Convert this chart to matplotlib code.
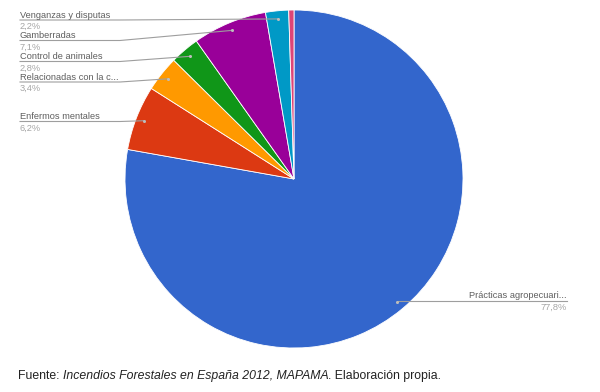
import matplotlib
matplotlib.use("Agg")
import matplotlib.pyplot as plt
import numpy as np

# Causas de incendios forestales (España 2012)
categorias = ["Prácticas agropecuari...", "Enfermos mentales", "Relacionadas con la c...",
              "Control de animales", "Gamberradas", "Venganzas y disputas", "Otras"]
porcentajes = [77.8, 6.2, 3.4, 2.8, 7.1, 2.2, 0.5]
colores = ["#3366cc", "#dc3912", "#ff9900", "#109618", "#990099", "#0099c6", "#dd4477"]
etiquetas_pct = ["77,8%", "6,2%", "3,4%", "2,8%", "7,1%", "2,2%", None]

plt.rcParams['font.family'] = ['Liberation Sans', 'DejaVu Sans']

W, H = 600, 392
fig = plt.figure(figsize=(W / 100, H / 100), dpi=100)
ax = fig.add_axes([0, 0, 1, 1])

cx, cy, r = 294, H - 179, 169
ax.pie(porcentajes, colors=colores, startangle=90, counterclock=False,
       center=(cx, cy), radius=r, frame=True,
       wedgeprops=dict(edgecolor='white', linewidth=0.6))
ax.set_xlim(0, W)
ax.set_ylim(0, H)
ax.set_aspect('equal')
ax.axis('off')

# posicion (pixel y de la linea) de cada etiqueta; None = sin etiqueta
linea_y = [301, 121.5, 82, 61.5, 40.5, 20, None]
lado = ["der", "izq", "izq", "izq", "izq", "izq", None]

total = sum(porcentajes)
acum = 0
for nombre, val, pct, ly, ld in zip(categorias, porcentajes, etiquetas_pct, linea_y, lado):
    mid = (acum + val / 2) / total * 360
    acum += val
    if ly is None:
        continue
    ang = np.radians(90 - mid)
    dx, dy = cx + 0.952 * r * np.cos(ang), cy + 0.952 * r * np.sin(ang)
    yl = H - ly
    if ld == "izq":
        xs, ys = [20, 120, dx], [yl, yl, dy]
        tx, ha = 20, 'left'
    else:
        xs, ys = [dx, 567], [yl, yl]
        tx, ha = 567, 'right'
    ax.plot(xs, ys, color='#9e9e9e', lw=0.8)
    ax.plot(dx, dy, 'o', ms=2.2, color='#bdbdbd', mec='none')
    ax.text(tx, yl + 2.5, nombre, ha=ha, va='baseline', fontsize=6.7, color='#5f5f5f')
    ax.text(tx, yl - 2, pct, ha=ha, va='top', fontsize=6.7, color='#a6a6a6')

# pie de figura con partes en cursiva
partes = [("Fuente: ", 'normal'), ("Incendios Forestales en España 2012, MAPAMA", 'italic'),
          (". Elaboración propia.", 'normal')]
prev = ax.text(18, H - 379, partes[0][0], fontsize=8.85, color='#222222', va='baseline')
for txt, st in partes[1:]:
    prev = ax.annotate(txt, xy=(1, 0), xycoords=prev, fontsize=8.85, color='#222222',
                       style=st, va='bottom')

fig.savefig("out.png", dpi=100)
